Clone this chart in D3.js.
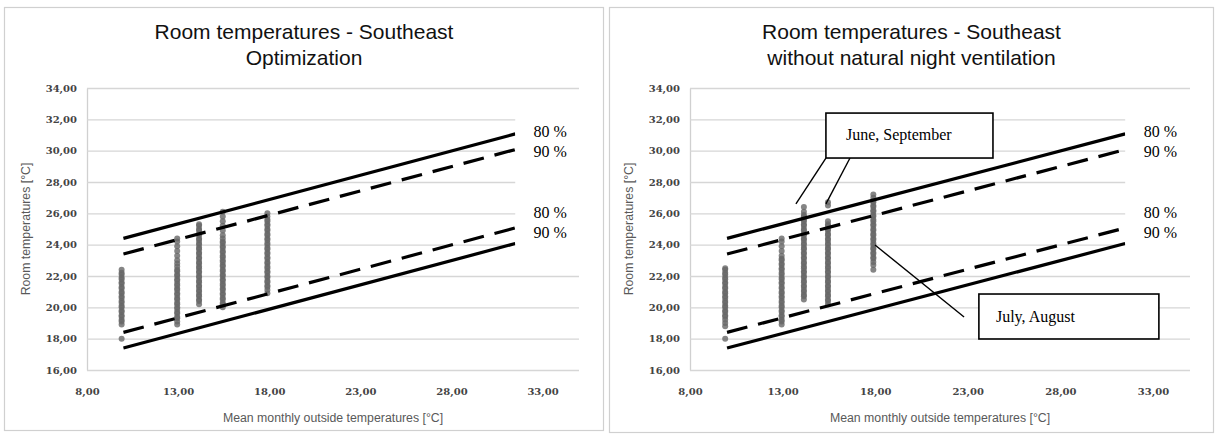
<!DOCTYPE html>
<html><head><meta charset="utf-8">
<script src="https://cdn.jsdelivr.net/npm/d3@7"></script>
<style>body{margin:0;background:#fff}svg{display:block}</style>
</head><body>
<svg id="c" width="1215" height="434"></svg>
<script>
// ---------- data ----------
const xTicks = [8, 13, 18, 23, 28, 33];
const yTicks = [16, 18, 20, 22, 24, 26, 28, 30, 32, 34];
const titleLeft = ["Room temperatures - Southeast", "Optimization"];
const titleRight = ["Room temperatures - Southeast", "without natural night ventilation"];
const xAxisTitle = "Mean monthly outside temperatures [°C]";
const yAxisTitle = "Room temperatures [°C]";

// comfort limits (start / end of each line)
const comfortX = [10, 31.5];
const upper80 = [24.4, 31.07];
const upper90 = [23.4, 30.07];
const lower90 = [18.4, 25.07];
const lower80 = [17.4, 24.07];
const bandLabels = ["80 %", "90 %", "80 %", "90 %"];

// mean monthly outside temperature of each month column
const monthX = [9.9, 12.95, 14.15, 15.45, 17.9];

// room temperatures, Optimization
const opt1 = [18.0, 18.9, 19.1, 19.2, 19.4, 19.5, 19.7, 19.8, 20.0, 20.1, 20.3, 20.4, 20.6, 20.7, 20.9, 21.0, 21.2, 21.3, 21.5, 21.6, 21.8, 21.9, 22.1, 22.2, 22.4];
const opt2 = [18.9, 19.1, 19.3, 19.4, 19.6, 19.7, 19.9, 20.0, 20.2, 20.3, 20.5, 20.6, 20.8, 20.9, 21.1, 21.2, 21.4, 21.5, 21.7, 21.8, 22.0, 22.1, 22.3, 22.4, 22.6, 22.8, 23.0, 23.3, 23.6, 23.9, 24.2, 24.4];
const opt3 = [20.2, 20.4, 20.5, 20.7, 20.8, 21.0, 21.1, 21.3, 21.4, 21.6, 21.7, 21.9, 22.0, 22.2, 22.3, 22.5, 22.6, 22.8, 22.9, 23.1, 23.2, 23.4, 23.5, 23.7, 23.8, 24.0, 24.1, 24.3, 24.4, 24.6, 24.7, 24.9, 25.0, 25.2, 25.3];
const opt4 = [20.0, 20.2, 20.3, 20.5, 20.6, 20.8, 20.9, 21.1, 21.2, 21.4, 21.5, 21.7, 21.8, 22.0, 22.1, 22.3, 22.4, 22.6, 22.7, 22.9, 23.0, 23.2, 23.3, 23.5, 23.6, 23.8, 23.9, 24.1, 24.2, 24.4, 24.6, 24.9, 25.2, 25.5, 25.8, 26.1];
const opt5 = [20.9, 21.1, 21.3, 21.4, 21.6, 21.7, 21.9, 22.0, 22.2, 22.3, 22.5, 22.6, 22.8, 22.9, 23.1, 23.2, 23.4, 23.5, 23.7, 23.8, 24.0, 24.1, 24.3, 24.4, 24.6, 24.7, 24.9, 25.0, 25.2, 25.3, 25.5, 25.6, 25.8, 26.0];

// room temperatures, without natural night ventilation
const nov1 = [18.0, 18.8, 19.0, 19.2, 19.4, 19.5, 19.7, 19.8, 20.0, 20.1, 20.3, 20.4, 20.6, 20.7, 20.9, 21.0, 21.2, 21.3, 21.5, 21.6, 21.8, 21.9, 22.1, 22.2, 22.4, 22.5];
const nov2 = [18.9, 19.1, 19.2, 19.4, 19.5, 19.7, 19.8, 20.0, 20.1, 20.3, 20.4, 20.6, 20.7, 20.9, 21.0, 21.2, 21.3, 21.5, 21.6, 21.8, 21.9, 22.1, 22.2, 22.4, 22.5, 22.7, 22.8, 23.0, 23.1, 23.3, 23.6, 23.9, 24.2, 24.4];
const nov3 = [20.5, 20.7, 20.8, 21.0, 21.1, 21.3, 21.4, 21.6, 21.7, 21.9, 22.0, 22.2, 22.3, 22.5, 22.6, 22.8, 22.9, 23.1, 23.2, 23.4, 23.5, 23.7, 23.8, 24.0, 24.1, 24.3, 24.4, 24.6, 24.7, 24.9, 25.0, 25.2, 25.3, 25.5, 25.6, 25.8, 25.9, 26.1, 26.4];
const nov4 = [20.2, 20.4, 20.5, 20.7, 20.8, 21.0, 21.1, 21.3, 21.4, 21.6, 21.7, 21.9, 22.0, 22.2, 22.3, 22.5, 22.6, 22.8, 22.9, 23.1, 23.2, 23.4, 23.5, 23.7, 23.8, 24.0, 24.1, 24.3, 24.4, 24.6, 24.7, 24.9, 25.0, 25.2, 25.3, 25.5, 26.5, 26.7];
const nov5 = [22.4, 22.7, 22.9, 23.1, 23.2, 23.4, 23.5, 23.7, 23.8, 24.0, 24.1, 24.3, 24.4, 24.6, 24.7, 24.9, 25.0, 25.2, 25.3, 25.5, 25.6, 25.8, 25.9, 26.1, 26.2, 26.4, 26.5, 26.7, 26.8, 27.0, 27.2];

// annotation callouts (right chart)
const calloutTexts = ["June, September", "July, August"];

// ---------- drawing ----------
const svg = d3.select("#c");
const fmt = v => d3.format(".2f")(v).replace(".", ",");

function drawPanel(cfg) {
  const g = svg.append("g");
  // chart area border
  g.append("rect").attr("x", cfg.box[0]).attr("y", cfg.box[1])
    .attr("width", cfg.box[2] - cfg.box[0]).attr("height", cfg.box[3] - cfg.box[1])
    .attr("fill", "#fff").attr("stroke", "#d0d0d0").attr("stroke-width", 1.2);

  const x = d3.scaleLinear().domain([8, 35]).range([cfg.left, cfg.right]);
  const y = d3.scaleLinear().domain([16, 34]).range([370, 88]);
  const cx = (cfg.box[0] + cfg.box[2]) / 2;

  // title
  const t = g.append("text").attr("text-anchor", "middle")
    .attr("font-family", "Liberation Sans, Arial, sans-serif").attr("font-size", 21).attr("fill", "#111");
  t.append("tspan").attr("x", cx).attr("y", 39).text(cfg.title[0]);
  t.append("tspan").attr("x", cx).attr("y", 65).text(cfg.title[1]);

  // y axis with gridlines
  const ya = g.append("g").attr("transform", `translate(${cfg.left},0)`)
    .call(d3.axisLeft(y).tickValues(yTicks).tickFormat(fmt)
      .tickSize(-(cfg.right - cfg.left)).tickSizeOuter(0).tickPadding(10));
  ya.select(".domain").attr("stroke", "#d0d0d0").attr("stroke-width", 1.3);
  ya.selectAll(".tick line").attr("stroke", "#d6d6d6").attr("stroke-width", 1.4);
  ya.selectAll(".tick text").attr("font-family", "DejaVu Serif, serif").attr("font-weight", "bold")
    .attr("font-size", 10).attr("fill", "#444");

  // x axis
  const xa = g.append("g").attr("transform", "translate(0,370)")
    .call(d3.axisBottom(x).tickValues(xTicks).tickFormat(fmt).tickSize(0).tickPadding(18));
  xa.select(".domain").remove();
  xa.selectAll(".tick text").attr("font-family", "DejaVu Serif, serif").attr("font-weight", "bold")
    .attr("font-size", 10).attr("fill", "#444");

  // axis titles
  g.append("text").attr("x", (cfg.left + cfg.right) / 2).attr("y", 422).attr("text-anchor", "middle")
    .attr("font-family", "Liberation Sans, Arial, sans-serif").attr("font-size", 12.3).attr("fill", "#595959")
    .text(xAxisTitle);
  g.append("text").attr("transform", `translate(${cfg.left - 57},229) rotate(-90)`).attr("text-anchor", "middle")
    .attr("font-family", "Liberation Sans, Arial, sans-serif").attr("font-size", 12.3).attr("fill", "#595959")
    .text(yAxisTitle);

  // scatter columns
  const pts = [];
  cfg.cols.forEach((col, i) => col.forEach(v => pts.push([monthX[i], v])));
  g.append("g").selectAll("circle").data(pts).join("circle")
    .attr("cx", d => x(d[0])).attr("cy", d => y(d[1])).attr("r", 3)
    .attr("fill", "#666").attr("fill-opacity", 0.8);

  // comfort lines
  const lines = [[upper80, false], [upper90, true], [lower90, true], [lower80, false]];
  const lineGen = d3.line().x(d => x(d[0])).y(d => y(d[1]));
  lines.forEach(([vals, dashed]) => {
    g.append("path").attr("d", lineGen(comfortX.map((xv, i) => [xv, vals[i]])))
      .attr("fill", "none").attr("stroke", "#000").attr("stroke-width", 3.2)
      .attr("stroke-dasharray", dashed ? "21,11" : null);
  });

  // white label box with band labels
  g.append("rect").attr("x", x(31.5)).attr("y", y(33.3))
    .attr("width", cfg.right + 14 - x(31.5)).attr("height", y(23.1) - y(33.3)).attr("fill", "#fff");
  const labY = [30.9, 29.6, 25.7, 24.4];
  bandLabels.forEach((s, i) => {
    g.append("text").attr("x", x(32.5)).attr("y", y(labY[i]))
      .attr("font-family", "Liberation Serif, Times New Roman, serif").attr("font-size", 16).attr("fill", "#000")
      .text(s);
  });

  return {g, x, y};
}

drawPanel({box: [4.5, 7.5, 603.5, 430.5], left: 87, right: 579, title: titleLeft,
  cols: [opt1, opt2, opt3, opt4, opt5]});
const R = drawPanel({box: [609.5, 7.5, 1213.5, 432.5], left: 690, right: 1190, title: titleRight,
  cols: [nov1, nov2, nov3, nov4, nov5]});

// callouts on the right chart
(function () {
  const {g, x, y} = R;
  const leaders = [
    [[15.34, 29.53], [13.72, 26.6]],
    [[16.64, 29.53], [15.34, 26.6]],
    [[17.99, 23.98], [22.8, 19.38]]
  ];
  leaders.forEach(l => g.append("line")
    .attr("x1", x(l[0][0])).attr("y1", y(l[0][1])).attr("x2", x(l[1][0])).attr("y2", y(l[1][1]))
    .attr("stroke", "#000").attr("stroke-width", 1.4));
  const boxes = [
    {x0: 15.34, x1: 24.36, y0: 32.4, y1: 29.53, tx: 16.42, ty: 30.68},
    {x0: 23.6, x1: 33.32, y0: 20.85, y1: 17.98, tx: 24.52, ty: 19.06}
  ];
  boxes.forEach((b, i) => {
    g.append("rect").attr("x", x(b.x0)).attr("y", y(b.y0))
      .attr("width", x(b.x1) - x(b.x0)).attr("height", y(b.y1) - y(b.y0))
      .attr("fill", "#fff").attr("stroke", "#000").attr("stroke-width", 1.6);
    g.append("text").attr("x", x(b.tx)).attr("y", y(b.ty))
      .attr("font-family", "Liberation Serif, Times New Roman, serif").attr("font-size", 16).attr("fill", "#000")
      .text(calloutTexts[i]);
  });
})();
</script>
</body></html>
